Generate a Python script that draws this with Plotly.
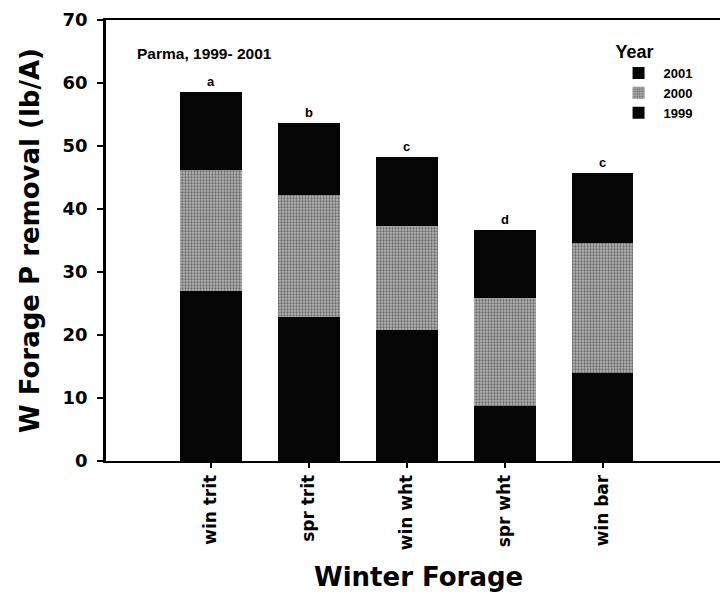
import plotly.graph_objects as go

categories = ["win trit", "spr trit", "win wht", "spr wht", "win bar"]
y1999 = [27.0, 22.8, 20.8, 8.7, 14.0]
y2000 = [19.2, 19.4, 16.5, 17.2, 20.6]
y2001 = [12.3, 11.4, 11.0, 10.8, 11.1]
letters = ["a", "b", "c", "d", "c"]
yticks = [0, 10, 20, 30, 40, 50, 60, 70]

FONT = "DejaVu Sans, sans-serif"
FONT2 = "Liberation Sans, Arial, sans-serif"

gray_marker = dict(color="#8a8a8a", line=dict(width=0),
                   pattern=dict(shape=".", fgcolor="#202020", bgcolor="#b4b4b4",
                                size=3, solidity=0.45))

fig = go.Figure()
fig.add_trace(go.Bar(x=categories, y=y1999, name="1999",
                     marker=dict(color="#050505", line=dict(width=0))))
fig.add_trace(go.Bar(x=categories, y=y2000, name="2000", marker=gray_marker))
fig.add_trace(go.Bar(x=categories, y=y2001, name="2001",
                     marker=dict(color="#050505", line=dict(width=0))))

totals = [a + b + c for a, b, c in zip(y1999, y2000, y2001)]
for cat, tot, let in zip(categories, totals, letters):
    fig.add_annotation(x=cat, y=tot, text=f"<b>{let}</b>", showarrow=False,
                       yanchor="bottom", yshift=1,
                       font=dict(family=FONT2, size=13, color="black"))

fig.add_annotation(xref="paper", yref="paper", x=0.046, y=0.925,
                   text="<b>Parma, 1999- 2001</b>", showarrow=False,
                   xanchor="left", yanchor="middle",
                   font=dict(family=FONT2, size=15.5, color="black"))

fig.add_annotation(xref="paper", yref="paper", x=0.503, y=-0.262,
                   text="<b>Winter Forage</b>", showarrow=False,
                   xanchor="center", yanchor="middle",
                   font=dict(family=FONT, size=26, color="black"))

# The page body has an 8 px margin; size and margins compensate for it.
fig.update_layout(
    width=720, height=586,
    barmode="stack",
    bargap=0.37,
    plot_bgcolor="white", paper_bgcolor="white",
    margin=dict(l=98, r=0, t=12, b=133),
    font=dict(family=FONT, color="black"),
    showlegend=True,
    legend=dict(x=0.816, y=0.967, xanchor="left", yanchor="top",
                traceorder="reversed",
                title=dict(text="<b>Year</b>", font=dict(family=FONT2, size=18)),
                font=dict(family=FONT2, size=13, color="black", weight="bold"),
                bgcolor="rgba(0,0,0,0)", itemwidth=40, tracegroupgap=0),
    xaxis=dict(
        type="category",
        range=[-1.07, 5.28],
        showline=True, linecolor="black", linewidth=2, mirror=True,
        ticks="outside", ticklen=5, tickwidth=1.5, tickcolor="black",
        tickangle=-90,
        tickfont=dict(family=FONT, size=17, color="black", weight="bold"),
        showgrid=False, zeroline=False,
    ),
    yaxis=dict(
        range=[0, 70],
        tickvals=yticks,
        showline=True, linecolor="black", linewidth=2.5,
        ticks="outside", ticklen=6, tickwidth=2, tickcolor="black",
        ticklabelstandoff=6,
        tickfont=dict(family=FONT, size=18, color="black", weight="bold"),
        title=dict(text="<b>W Forage P removal (lb/A)</b>", standoff=16,
                   font=dict(family=FONT, size=26, color="black")),
        showgrid=False, zeroline=False,
    ),
)

fig.write_html("out.html")
